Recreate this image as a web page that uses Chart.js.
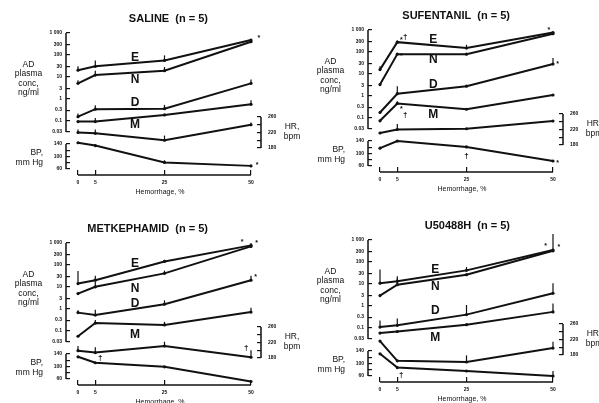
<!DOCTYPE html>
<html>
<head>
<meta charset="utf-8">
<title>AD plasma concentrations during hemorrhage</title>
<script src="https://cdn.jsdelivr.net/npm/chart.js@4.4.1/dist/chart.umd.min.js"></script>
<style>
  html, body { margin: 0; padding: 0; background: #fff; }
  #page { position: relative; width: 599px; height: 403px; overflow: hidden; background: #fff; }
  #page canvas { position: absolute; }
</style>
</head>
<body>
<div id="page">
  <canvas id="saline" width="300" height="200" style="left:0px;top:0px"></canvas>
  <canvas id="sufentanil" width="300" height="200" style="left:302px;top:-3px"></canvas>
  <canvas id="metkephamid" width="300" height="200" style="left:0px;top:210px"></canvas>
  <canvas id="u50488h" width="300" height="200" style="left:302px;top:207px"></canvas>
</div>
<script>
const hemorrhage = [0, 5, 25, 50];
const hemorrhageTicks = [0, 5, 25, 50];
const adTicks = [0.03, 0.1, 0.3, 1, 3, 10, 30, 100, 300, 1000];
const adTickLabels = ['0.03', '0.1', '0.3', '1', '3', '10', '30', '100', '300', '1 000'];
const hrTicks = [180, 200, 220, 240, 260];
const hrTickLabels = ['180', '', '220', '', '260'];
const bpTicks = [60, 80, 100, 120, 140];
const bpTickLabels = ['60', '', '100', '', '140'];

// SALINE (n = 5)
const salineE = [20, 30, 56, 480];
const salineN = [5, 12, 19, 400];
const salineD = [0.15, 0.33, 0.35, 5];
const salineM = [0.09, 0.09, 0.18, 0.55];
const salineHR = [220, 218, 200, 240];
const salineBP = [144, 135, 81, 70];
// top of each error bar, null where none is drawn
const salineEUp = [30, 55, 95, null];
const salineNUp = [7, 19, 28, null];
const salineDUp = [0.21, 0.5, 0.52, 7.5];
const salineMUp = [null, 0.13, null, 0.85];
const salineHRUp = [228, 228, 212, 246];
const salineBPUp = [null, null, 88, null];

// SUFENTANIL (n = 5)
const sufentanilE = [15.5, 278, 149, 760];
const sufentanilN = [3.2, 79, 79, 680];
const sufentanilD = [0.17, 1.23, 2.7, 28];
const sufentanilM = [0.071, 0.44, 0.24, 1.07];
const sufentanilHR = [211, 220, 222, 242];
const sufentanilBP = [117, 140, 121, 76];
const sufentanilEUp = [22, 330, 210, null];
const sufentanilNUp = [null, null, null, null];
const sufentanilDUp = [0.2, 2.7, null, 52];
const sufentanilMUp = [null, 0.55, null, null];
const sufentanilHRUp = [null, 234, null, null];
const sufentanilBPUp = [null, null, null, null];

// METKEPHAMID (n = 5)
const metkephamidE = [14, 20, 144, 780];
const metkephamidN = [4.9, 10, 41, 700];
const metkephamidD = [0.66, 0.51, 1.6, 20];
const metkephamidM = [0.055, 0.22, 0.18, 0.7];
const metkephamidHR = [199, 194, 211, 182];
const metkephamidBP = [131, 112, 99, 52];
const metkephamidEUp = [53, 32, 170, 1000];
const metkephamidNUp = [null, 17, 55, null];
const metkephamidDUp = [0.85, 0.9, 2.4, 32];
const metkephamidMUp = [null, 0.3, 0.25, 1.1];
const metkephamidHRUp = [211, 208, 222, 200];
const metkephamidBPUp = [null, null, null, null];

// U50488H (n = 5)
const u50488hE = [10.7, 12.9, 41, 350];
const u50488hN = [2.9, 9.1, 26, 320];
const u50488hD = [0.105, 0.126, 0.39, 3.7];
const u50488hM = [0.056, 0.066, 0.135, 0.52];
const u50488hHR = [216, 165, 162, 198];
const u50488hBP = [131, 87, 76, 60];
const u50488hEUp = [45, 22, 58, 1900];
const u50488hNUp = [null, 18, null, null];
const u50488hDUp = [0.21, 0.26, 1.07, 10.7];
const u50488hMUp = [null, null, null, 1.26];
const u50488hHRUp = [null, null, 179, 214];
const u50488hBPUp = [null, null, null, 76];

const ink = '#111';
const family = '"Liberation Sans", Arial, Helvetica, sans-serif';

// panel geometry in canvas pixels (measured on the SALINE panel)
const AREA = { left: 70, right: 257, top: 33, adBottom: 132, bottom: 170 };
const TL = 4; // tick length, ticks turned inward

function series(values, upper, axis) {
  return { values, upper, axis };
}

const panels = [
  {
    id: 'saline', title: 'SALINE  (n = 5)',
    series: [
      series(salineE, salineEUp, 'ad'), series(salineN, salineNUp, 'ad'),
      series(salineD, salineDUp, 'ad'), series(salineM, salineMUp, 'ad'),
      series(salineHR, salineHRUp, 'hr'), series(salineBP, salineBPUp, 'bp')
    ],
    letters: [['E', 16.5, 72], ['N', 16.5, 7], ['D', 16.5, 0.63], ['M', 16.5, 0.063]],
    notes: [['*', 52.3, 560, 'ad'], ['*', 51.8, 74, 'bp']]
  },
  {
    id: 'sufentanil', title: 'SUFENTANIL  (n = 5)',
    series: [
      series(sufentanilE, sufentanilEUp, 'ad'), series(sufentanilN, sufentanilNUp, 'ad'),
      series(sufentanilD, sufentanilDUp, 'ad'), series(sufentanilM, sufentanilMUp, 'ad'),
      series(sufentanilHR, sufentanilHRUp, 'hr'), series(sufentanilBP, sufentanilBPUp, 'bp')
    ],
    letters: [['E', 15.4, 357], ['N', 15.4, 44], ['D', 15.4, 3.2], ['M', 15.4, 0.14]],
    notes: [['†', 7.3, 500, 'ad'], ['*', 6.2, 360, 'ad'], ['*', 6.2, 62, 'ad'],
            ['†', 7.3, 0.14, 'ad'], ['*', 6.2, 0.24, 'ad'], ['†', 25, 92, 'bp'],
            ['*', 48.8, 1000, 'ad'], ['*', 51.3, 28, 'ad'], ['*', 51.3, 70, 'bp']]
  },
  {
    id: 'metkephamid', title: 'METKEPHAMID  (n = 5)',
    series: [
      series(metkephamidE, metkephamidEUp, 'ad'), series(metkephamidN, metkephamidNUp, 'ad'),
      series(metkephamidD, metkephamidDUp, 'ad'), series(metkephamidM, metkephamidMUp, 'ad'),
      series(metkephamidHR, metkephamidHRUp, 'hr'), series(metkephamidBP, metkephamidBPUp, 'bp')
    ],
    letters: [['E', 16.5, 112], ['N', 16.5, 7.9], ['D', 16.5, 1.7], ['M', 16.5, 0.066]],
    notes: [['†', 6.4, 128, 'bp'], ['†', 48.6, 206, 'hr'], ['*', 47.4, 1100, 'ad'],
            ['*', 51.6, 950, 'ad'], ['*', 51.3, 29, 'ad']]
  },
  {
    id: 'u50488h', title: 'U50488H  (n = 5)',
    series: [
      series(u50488hE, u50488hEUp, 'ad'), series(u50488hN, u50488hNUp, 'ad'),
      series(u50488hD, u50488hDUp, 'ad'), series(u50488hM, u50488hMUp, 'ad'),
      series(u50488hHR, u50488hHRUp, 'hr'), series(u50488hBP, u50488hBPUp, 'bp')
    ],
    letters: [['E', 16, 45], ['N', 16, 7.6], ['D', 16, 0.56], ['M', 16, 0.036]],
    notes: [['*', 47.9, 550, 'ad'], ['*', 51.7, 500, 'ad'], ['†', 6.1, 65, 'bp']]
  }
];

// values a linear scale must reach at two pixel edges so that v1 lands on p1 and v2 on p2
function fitRange(v1, p1, v2, p2, pLow, pHigh) {
  const k = (v2 - v1) / (p2 - p1);
  return { min: v1 + (pLow - p1) * k, max: v1 + (pHigh - p1) * k };
}

function tickedScale(ticks, labels, padding, extra) {
  return Object.assign({
    bounds: 'data',
    afterBuildTicks: s => { s.ticks = ticks.map(v => ({ value: v })); },
    grid: { drawOnChartArea: false, drawTicks: true, tickLength: TL, color: ink, lineWidth: 1.2 },
    border: { display: false },
    ticks: {
      autoSkip: false, maxRotation: 0, padding, color: ink,
      font: { family, size: 5, weight: 'bold' },
      callback: v => labels[ticks.indexOf(v)]
    }
  }, extra);
}

function decor(p) {
  return {
    id: 'decor',
    afterDatasetsDraw(chart) {
      const { ctx, scales } = chart;
      const { x, ad, bp, hr } = scales;
      const seg = (x1, y1, x2, y2) => {
        ctx.beginPath(); ctx.moveTo(x1, y1); ctx.lineTo(x2, y2); ctx.stroke();
      };
      ctx.save();
      ctx.strokeStyle = ink;
      ctx.fillStyle = ink;

      // axis lines only over the tick range
      ctx.lineWidth = 1.5;
      seg(ad.right - TL, ad.getPixelForValue(1000), ad.right - TL, ad.getPixelForValue(0.03));
      seg(bp.right - TL, bp.getPixelForValue(140), bp.right - TL, bp.getPixelForValue(60));
      seg(hr.left + TL, hr.getPixelForValue(260), hr.left + TL, hr.getPixelForValue(180));
      seg(x.getPixelForValue(0), x.top + 5, x.getPixelForValue(50), x.top + 5);

      // one-sided error bars
      ctx.lineWidth = 1.2;
      chart.data.datasets.forEach(ds => {
        const sc = scales[ds.yAxisID];
        ds.upper.forEach((u, j) => {
          if (u == null) return;
          const px = x.getPixelForValue(hemorrhage[j]);
          seg(px, sc.getPixelForValue(ds.data[j].y), px, sc.getPixelForValue(u));
        });
      });

      ctx.textAlign = 'center';
      ctx.textBaseline = 'middle';
      ctx.font = `bold 12px ${family}`;
      p.letters.forEach(([t, xv, yv]) => ctx.fillText(t, x.getPixelForValue(xv), ad.getPixelForValue(yv)));

      p.notes.forEach(([t, xv, yv, axis]) => {
        ctx.font = t === '*' ? `bold 7px ${family}` : `bold 8px ${family}`;
        ctx.fillText(t, x.getPixelForValue(xv), scales[axis].getPixelForValue(yv));
      });

      ctx.font = `bold 11px ${family}`;
      ctx.textAlign = 'right';
      ctx.fillText(p.title, 208, 18.5);

      ctx.font = `8.5px ${family}`;
      ctx.textAlign = 'center';
      ['AD', 'plasma', 'conc,', 'ng/ml'].forEach((t, i) => ctx.fillText(t, 28.5, 65 + i * 9.1));
      ctx.textAlign = 'right';
      ctx.fillText('BP,', 43, 152.5);
      ctx.fillText('mm Hg', 43, 163);
      ctx.textAlign = 'center';
      ctx.fillText('HR,', 292, 127);
      ctx.fillText('bpm', 292, 136.5);
      ctx.font = `7px ${family}`;
      ctx.fillText('Hemorrhage, %', 160, 192);
      ctx.restore();
    }
  };
}

function drawPanel(p) {
  const xr = fitRange(0, 78, 50, 251, AREA.left, AREA.right);
  const bpr = fitRange(140, 144, 60, 169, AREA.bottom, AREA.adBottom);
  const hrr = fitRange(260, 117, 180, 148, AREA.bottom, AREA.top);

  const datasets = p.series.map(s => ({
    data: hemorrhage.map((h, i) => ({ x: h, y: s.values[i] })),
    upper: s.upper,
    yAxisID: s.axis,
    borderColor: ink,
    borderWidth: 2,
    pointRadius: 1.6,
    pointBackgroundColor: ink,
    pointBorderWidth: 0,
    tension: 0,
    fill: false,
    clip: false
  }));

  new Chart(document.getElementById(p.id), {
    type: 'line',
    data: { datasets },
    options: {
      responsive: false,
      animation: false,
      events: [],
      layout: { padding: { left: AREA.left - 36, right: 300 - AREA.right - 30, top: AREA.top, bottom: 0 } },
      plugins: { legend: { display: false }, tooltip: { enabled: false }, title: { display: false } },
      scales: {
        x: tickedScale(hemorrhageTicks, hemorrhageTicks.map(String), 5, {
          type: 'linear', min: xr.min, max: xr.max,
          grid: { drawOnChartArea: false, drawTicks: true, tickLength: 5, color: ink, lineWidth: 1.2 },
          afterFit: s => { s.height = 200 - AREA.bottom; }
        }),
        // left boxes in a stack are placed bottom-up in definition order, so BP comes first
        bp: tickedScale(bpTicks, bpTickLabels, 4, {
          axis: 'y', type: 'linear', position: 'left', stack: 'left',
          stackWeight: AREA.bottom - AREA.adBottom, min: bpr.min, max: bpr.max,
          afterFit: s => { s.width = 36; }
        }),
        ad: tickedScale(adTicks, adTickLabels, 4, {
          axis: 'y', type: 'logarithmic', position: 'left', stack: 'left',
          stackWeight: AREA.adBottom - AREA.top, min: 0.03, max: 1000,
          afterFit: s => { s.width = 36; }
        }),
        hr: tickedScale(hrTicks, hrTickLabels, 7, {
          axis: 'y', type: 'linear', position: 'right', min: hrr.min, max: hrr.max,
          afterFit: s => { s.width = 30; }
        })
      }
    },
    plugins: [decor(p)]
  });
}

panels.forEach(drawPanel);
</script>
</body>
</html>
